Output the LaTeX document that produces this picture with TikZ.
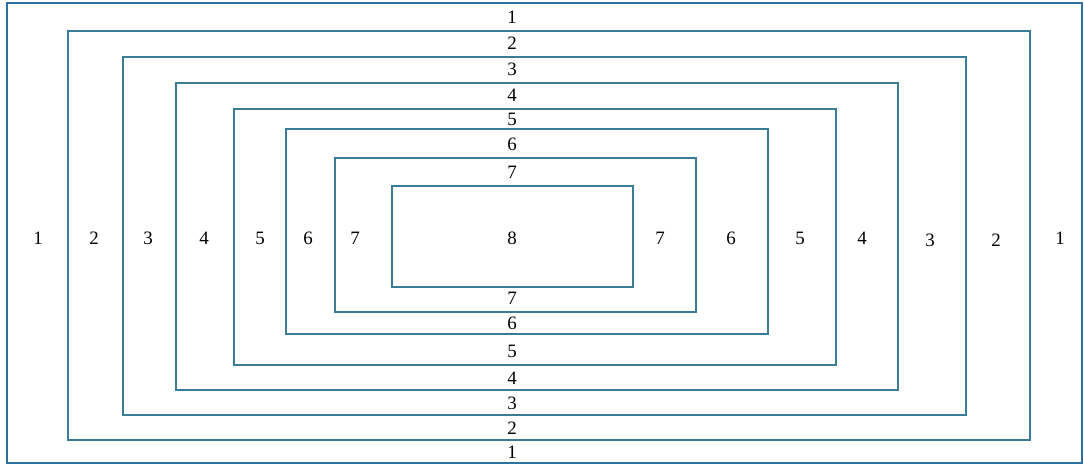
\documentclass[tikz,border=0pt]{standalone}
\usepackage{fontspec}
\setmainfont{Liberation Serif}
\definecolor{frame}{RGB}{58,124,150}
\definecolor{outerframe}{RGB}{46,112,160}
\begin{document}
\begin{tikzpicture}[x=1bp,y=-1bp,
  box/.style={draw=frame,line width=2bp},
  lab/.style={font=\fontsize{19}{19}\selectfont,inner sep=0pt,text=black}]
\useasboundingbox (0,0) rectangle (1084,465);
\draw[draw=outerframe,line width=2bp] (7,3) rectangle (1082,463);
\draw[box] (68,31) rectangle (1030,440);
\draw[box] (123,57) rectangle (966,415);
\draw[box] (176,83) rectangle (898,390);
\draw[box] (234,109) rectangle (836,365);
\draw[box] (286,129) rectangle (768,334);
\draw[box] (335,158) rectangle (696,312);
\draw[box] (392,186) rectangle (633,287);
% top labels
\node[lab] (t1) at (512,17) {1};
\node[lab] (t2) at (512,43) {2};
\node[lab] (t3) at (512,69) {3};
\node[lab] (t4) at (512,95) {4};
\node[lab] (t5) at (512,119) {5};
\node[lab] (t6) at (512,144) {6};
\node[lab] (t7) at (512,172) {7};
% bottom labels
\node[lab] (b7) at (512,298) {7};
\node[lab] (b6) at (512,323) {6};
\node[lab] (b5) at (512,351) {5};
\node[lab] (b4) at (512,378) {4};
\node[lab] (b3) at (512,403) {3};
\node[lab] (b2) at (512,428) {2};
\node[lab] (b1) at (512,452) {1};
% middle row
\node[lab] (l1) at (38,238) {1};
\node[lab] (l2) at (94,238) {2};
\node[lab] (l3) at (148,238) {3};
\node[lab] (l4) at (204,238) {4};
\node[lab] (l5) at (260,238) {5};
\node[lab] (l6) at (308,238) {6};
\node[lab] (l7) at (355,238) {7};
\node[lab] (c8) at (512,238) {8};
\node[lab] (r7) at (660,238) {7};
\node[lab] (r6) at (731,238) {6};
\node[lab] (r5) at (800,238) {5};
\node[lab] (r4) at (862,238) {4};
\node[lab] (r3) at (930,240) {3};
\node[lab] (r2) at (996,240) {2};
\node[lab] (r1) at (1060,238) {1};
\end{tikzpicture}
\end{document}
